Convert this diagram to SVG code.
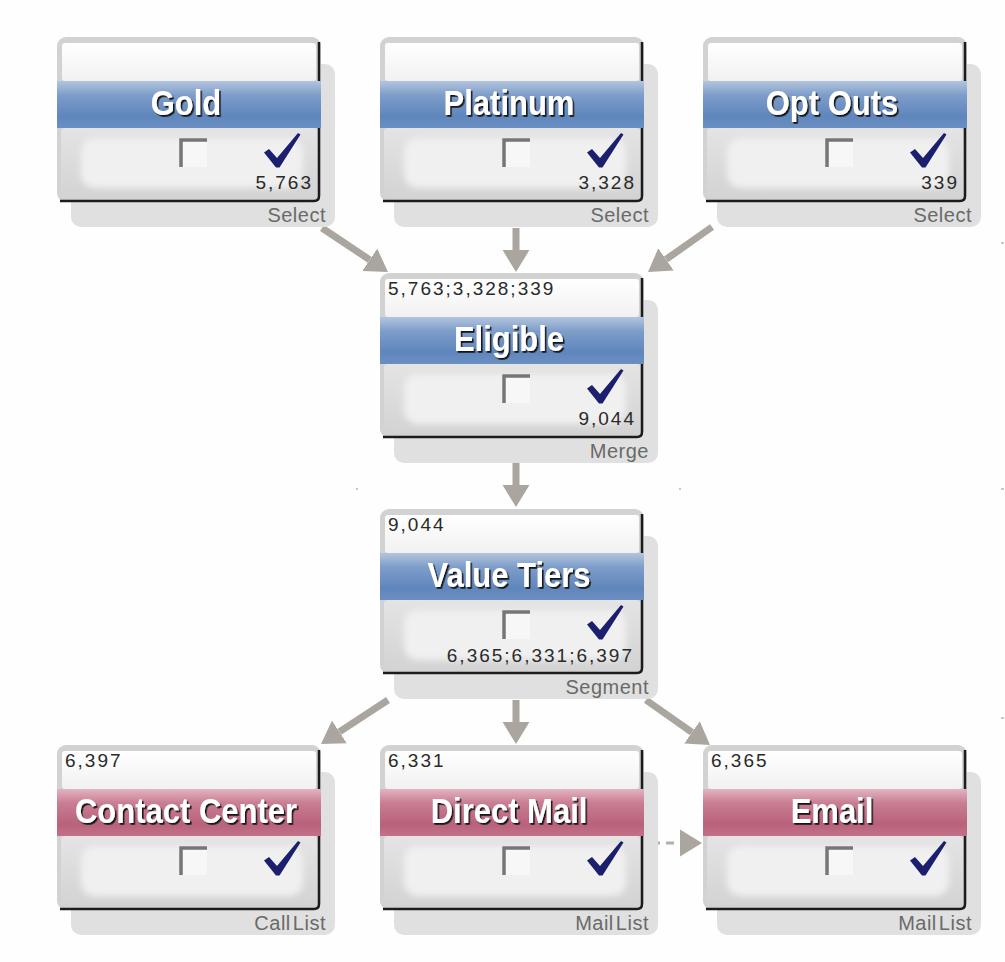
<svg xmlns="http://www.w3.org/2000/svg" width="1005" height="962" viewBox="0 0 1005 962">
  <style>
    .title { font-family: "Liberation Sans", Arial, sans-serif; font-weight: bold; font-size: 31px; fill: #ffffff; filter: url(#txtShadow); }
    .num { font-family: "Liberation Sans", Arial, sans-serif; font-size: 19px; fill: #2a2a2a; letter-spacing: 2px; }
    .kind { font-family: "Liberation Sans", Arial, sans-serif; font-size: 20px; fill: #6a6a6a; letter-spacing: 0.5px; word-spacing: -4px; }
    .conn { stroke: #aaa69f; stroke-width: 7; fill: none; marker-end: url(#head); }
    .dashed { stroke: #b3afa9; stroke-width: 3; fill: none; stroke-dasharray: 8 6; marker-end: url(#head); }
    .speck { fill: #c8c8c8; }
  </style>
  <defs>
    <filter id="txtShadow" x="-10%" y="-20%" width="130%" height="150%">
      <feDropShadow dx="1.6" dy="1.6" stdDeviation="0.5" flood-color="#151515" flood-opacity="1"/>
    </filter>
    <filter id="soft" x="-10%" y="-20%" width="120%" height="140%">
      <feGaussianBlur stdDeviation="3"/>
    </filter>
    <linearGradient id="blueBand" x1="0" y1="0" x2="0" y2="1">
      <stop offset="0" stop-color="#b3c5de"/>
      <stop offset="0.3" stop-color="#7e9dc9"/>
      <stop offset="0.75" stop-color="#5f86bc"/>
      <stop offset="1" stop-color="#6b8fc2"/>
    </linearGradient>
    <linearGradient id="pinkBand" x1="0" y1="0" x2="0" y2="1">
      <stop offset="0" stop-color="#e3b3c1"/>
      <stop offset="0.3" stop-color="#c97d93"/>
      <stop offset="0.75" stop-color="#b8627b"/>
      <stop offset="1" stop-color="#c27188"/>
    </linearGradient>
    <linearGradient id="topArea" x1="0" y1="0" x2="0" y2="1">
      <stop offset="0" stop-color="#ffffff"/>
      <stop offset="1" stop-color="#f1f1f1"/>
    </linearGradient>
    <linearGradient id="lowArea" x1="0" y1="0" x2="0" y2="1">
      <stop offset="0" stop-color="#e4e4e4"/>
      <stop offset="1" stop-color="#d3d3d3"/>
    </linearGradient>
    <marker id="head" markerUnits="userSpaceOnUse" markerWidth="24" markerHeight="30" viewBox="0 -15 24 30" refX="0" refY="0" orient="auto">
      <path d="M0,-13.5 L22,0 L0,13.5 Z" fill="#aaa69f"/>
    </marker>
    <g id="nodeBase">
      <rect x="14" y="27" width="264" height="163" rx="10" fill="#e0e0e0"/>
      <rect x="0" y="0" width="264" height="165" rx="9" fill="#d2d2d2"/>
      <rect x="5" y="6" width="254" height="38" rx="3" fill="url(#topArea)"/>
      <rect x="4" y="91" width="256" height="70" rx="4" fill="url(#lowArea)"/>
      <rect x="24" y="101" width="222" height="50" rx="14" fill="#f0f0f0" filter="url(#soft)"/>
      <path d="M262,5 V159 Q262,164 257,164 H3" stroke="#1c1c1c" stroke-width="2.5" fill="none"/>
      <rect x="122" y="101" width="28" height="29" fill="#f7f7f7"/>
      <path d="M124,130 V103 H150" stroke="#767676" stroke-width="3.5" fill="none"/>
      <path d="M207,115.5 L212,112 L220,121 L241,96 L243.5,97.5 L222.5,130.5 L219,130.5 Z" fill="#1b1f6e"/>
    </g>
  </defs>
  <rect x="0" y="0" width="1005" height="962" fill="#fefefe"/>

  <g id="connectors">
    <line class="conn" x1="322" y1="228" x2="369.7" y2="259.8"/>
    <line class="conn" x1="516" y1="228" x2="516" y2="250"/>
    <line class="conn" x1="712" y1="227" x2="666" y2="259.4"/>
    <line class="conn" x1="516" y1="463" x2="516" y2="485"/>
    <line class="conn" x1="388" y1="700" x2="339.4" y2="731.9"/>
    <line class="conn" x1="516" y1="700" x2="516" y2="722"/>
    <line class="conn" x1="646" y1="700" x2="692" y2="732.4"/>
    <line class="dashed" x1="652" y1="843" x2="680" y2="843"/>
  </g>

  <g id="gold" transform="translate(57,37)">
    <use href="#nodeBase"/>
    <rect x="0" y="44" width="264" height="47" fill="url(#blueBand)"/>
    <text class="title" transform="translate(129,78) scale(1,1.13)" text-anchor="middle">Gold</text>
    <text class="num" x="256" y="152" text-anchor="end">5,763</text>
    <text class="kind" x="269" y="185" text-anchor="end">Select</text>
  </g>
  <g id="platinum" transform="translate(380,37)">
    <use href="#nodeBase"/>
    <rect x="0" y="44" width="264" height="47" fill="url(#blueBand)"/>
    <text class="title" transform="translate(129,78) scale(1,1.13)" text-anchor="middle">Platinum</text>
    <text class="num" x="256" y="152" text-anchor="end">3,328</text>
    <text class="kind" x="269" y="185" text-anchor="end">Select</text>
  </g>
  <g id="optouts" transform="translate(703,37)">
    <use href="#nodeBase"/>
    <rect x="0" y="44" width="264" height="47" fill="url(#blueBand)"/>
    <text class="title" transform="translate(129,78) scale(1,1.13)" text-anchor="middle">Opt Outs</text>
    <text class="num" x="256" y="152" text-anchor="end">339</text>
    <text class="kind" x="269" y="185" text-anchor="end">Select</text>
  </g>
  <g id="eligible" transform="translate(380,273)">
    <use href="#nodeBase"/>
    <rect x="0" y="44" width="264" height="47" fill="url(#blueBand)"/>
    <text class="num" x="8" y="22">5,763;3,328;339</text>
    <text class="title" transform="translate(129,78) scale(1,1.13)" text-anchor="middle">Eligible</text>
    <text class="num" x="256" y="152" text-anchor="end">9,044</text>
    <text class="kind" x="269" y="185" text-anchor="end">Merge</text>
  </g>
  <g id="valuetiers" transform="translate(380,509)">
    <use href="#nodeBase"/>
    <rect x="0" y="44" width="264" height="47" fill="url(#blueBand)"/>
    <text class="num" x="8" y="22">9,044</text>
    <text class="title" transform="translate(129,78) scale(1,1.13)" text-anchor="middle">Value Tiers</text>
    <text class="num" x="254" y="153" text-anchor="end">6,365;6,331;6,397</text>
    <text class="kind" x="269" y="185" text-anchor="end">Segment</text>
  </g>
  <g id="contactcenter" transform="translate(57,745)">
    <use href="#nodeBase"/>
    <rect x="0" y="44" width="264" height="47" fill="url(#pinkBand)"/>
    <text class="num" x="8" y="22">6,397</text>
    <text class="title" transform="translate(129,78) scale(1,1.13)" text-anchor="middle">Contact Center</text>
    <text class="kind" x="269" y="185" text-anchor="end">Call List</text>
  </g>
  <g id="directmail" transform="translate(380,745)">
    <use href="#nodeBase"/>
    <rect x="0" y="44" width="264" height="47" fill="url(#pinkBand)"/>
    <text class="num" x="8" y="22">6,331</text>
    <text class="title" transform="translate(129,78) scale(1,1.13)" text-anchor="middle">Direct Mail</text>
    <text class="kind" x="269" y="185" text-anchor="end">Mail List</text>
  </g>
  <g id="email" transform="translate(703,745)">
    <use href="#nodeBase"/>
    <rect x="0" y="44" width="264" height="47" fill="url(#pinkBand)"/>
    <text class="num" x="8" y="22">6,365</text>
    <text class="title" transform="translate(129,78) scale(1,1.13)" text-anchor="middle">Email</text>
    <text class="kind" x="269" y="185" text-anchor="end">Mail List</text>
  </g>

  <g id="specks">
    <rect class="speck" x="1001" y="242" width="3" height="2"/>
    <rect class="speck" x="356" y="488" width="2" height="2"/>
    <rect class="speck" x="679" y="488" width="2" height="2"/>
    <rect class="speck" x="1001" y="488" width="3" height="2"/>
    <rect class="speck" x="1001" y="717" width="3" height="2"/>
  </g>
</svg>
